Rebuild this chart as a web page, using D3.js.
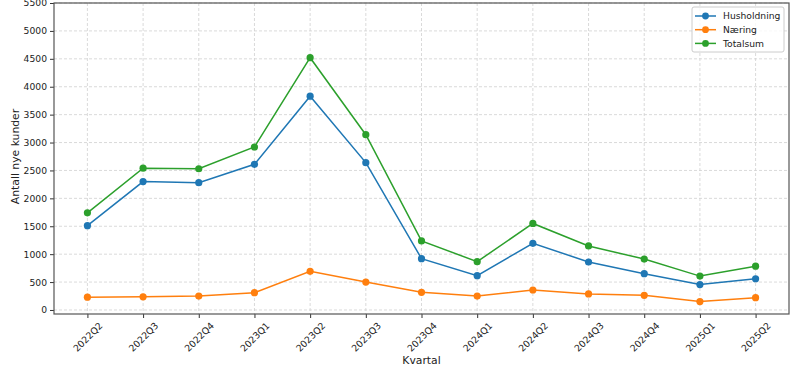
<!DOCTYPE html>
<html lang="en">
<head>
<meta charset="UTF-8">
<title>Nye kunder per kvartal</title>
<script src="https://d3js.org/d3.v7.min.js"></script>
<style>
    body { margin: 0; background: #fff; }
    svg text { font-family: "DejaVu Sans", sans-serif; fill: #222; }
    .grid line { stroke: #d0d0d0; stroke-dasharray: 3,2; stroke-width: 0.8; }
</style>
</head>
<body>
<svg id="chart" width="800" height="367"></svg>
<script>
    const quarters = ["2022Q2","2022Q3","2022Q4","2023Q1","2023Q2","2023Q3","2023Q4",
                      "2024Q1","2024Q2","2024Q3","2024Q4","2025Q1","2025Q2"];
    const husholdning = [1510, 2300, 2280, 2610, 3830, 2640, 920, 615, 1195, 860, 650, 455, 560];
    const naering     = [230, 235, 250, 310, 693, 500, 317, 250, 358, 287, 262, 150, 220];
    const totalsum    = [1740, 2540, 2530, 2920, 4520, 3140, 1237, 866, 1550, 1147, 912, 607, 785];
    const yTicks = d3.range(0, 5501, 500);

    const series = [
        { name: "Husholdning", values: husholdning, color: "#1f77b4" },
        { name: "Næring", values: naering, color: "#ff7f0e" },
        { name: "Totalsum", values: totalsum, color: "#2ca02c" }
    ];

    const plot = { left: 54, right: 789, top: 3, bottom: 314 };
    const svg = d3.select("#chart");

    const x = d3.scalePoint().domain(quarters).range([plot.left, plot.right]).padding(0.6);
    const y = d3.scaleLinear().domain([-72, 5500]).range([plot.bottom, plot.top]);

    // grid
    svg.append("g").attr("class", "grid")
        .selectAll("line").data(quarters).enter().append("line")
        .attr("x1", d => x(d)).attr("x2", d => x(d))
        .attr("y1", plot.top).attr("y2", plot.bottom);
    svg.append("g").attr("class", "grid")
        .selectAll("line").data(yTicks).enter().append("line")
        .attr("x1", plot.left).attr("x2", plot.right)
        .attr("y1", d => y(d)).attr("y2", d => y(d));

    // axes
    const xAxis = svg.append("g")
        .attr("transform", `translate(0,${plot.bottom})`)
        .call(d3.axisBottom(x).tickSize(4).tickPadding(3));
    xAxis.select(".domain").remove();
    // rotated 45deg, centred under the tick like matplotlib's ha="center"
    xAxis.selectAll("text")
        .attr("font-size", 9.3)
        .style("text-anchor", "middle")
        .attr("y", 0)
        .attr("dy", "0.35em")
        .attr("transform", "translate(0,23) rotate(-45)");

    const yAxis = svg.append("g")
        .attr("transform", `translate(${plot.left},0)`)
        .call(d3.axisLeft(y).tickValues(yTicks).tickFormat(d3.format("d")).tickSize(4).tickPadding(3));
    yAxis.select(".domain").remove();
    yAxis.selectAll("text").attr("font-size", 9.2);
    svg.selectAll(".tick line").attr("stroke", "#333");

    // frame
    svg.append("rect")
        .attr("x", plot.left).attr("y", plot.top)
        .attr("width", plot.right - plot.left).attr("height", plot.bottom - plot.top)
        .attr("fill", "none").attr("stroke", "#555").attr("stroke-width", 1.2);

    // lines
    const line = d3.line().x((d, i) => x(quarters[i])).y(d => y(d));
    series.forEach(s => {
        svg.append("path")
            .datum(s.values)
            .attr("fill", "none")
            .attr("stroke", s.color)
            .attr("stroke-width", 1.5)
            .attr("d", line);
        svg.append("g").selectAll("circle")
            .data(s.values).enter().append("circle")
            .attr("cx", (d, i) => x(quarters[i]))
            .attr("cy", d => y(d))
            .attr("r", 3.6)
            .attr("fill", s.color);
    });

    // axis labels
    svg.append("text")
        .attr("x", (plot.left + plot.right) / 2)
        .attr("y", 364)
        .attr("text-anchor", "middle")
        .attr("font-size", 10.8)
        .text("Kvartal");
    svg.append("text")
        .attr("transform", `translate(19,${(plot.top + plot.bottom) / 2 - 2}) rotate(-90)`)
        .attr("text-anchor", "middle")
        .attr("font-size", 10.8)
        .text("Antall nye kunder");

    // legend
    const lg = svg.append("g").attr("transform", "translate(692,7)");
    lg.append("rect")
        .attr("width", 92).attr("height", 45).attr("rx", 2)
        .attr("fill", "#fff").attr("fill-opacity", 0.8)
        .attr("stroke", "#ccc");
    series.forEach((s, i) => {
        const row = lg.append("g").attr("transform", `translate(3,${9 + i * 13.7})`);
        row.append("line").attr("x1", 0).attr("x2", 21)
            .attr("stroke", s.color).attr("stroke-width", 1.5);
        row.append("circle").attr("cx", 10.5).attr("r", 3.4).attr("fill", s.color);
        row.append("text").attr("x", 28).attr("dy", "0.35em")
            .attr("font-size", 9.2).text(s.name);
    });
</script>
</body>
</html>
